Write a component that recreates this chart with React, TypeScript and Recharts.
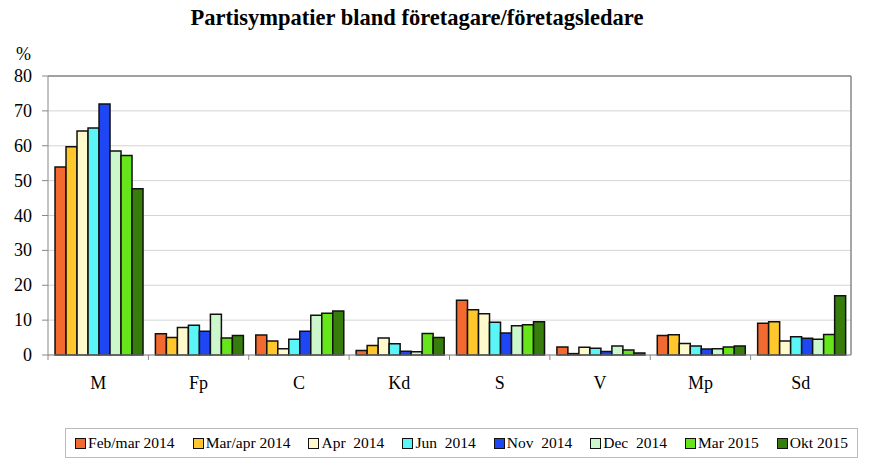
import React from "react";
import { BarChart, Bar, XAxis, YAxis, CartesianGrid, ReferenceLine } from "recharts";

const parties = ["M", "Fp", "C", "Kd", "S", "V", "Mp", "Sd"];

const febMar2014 = [53.9, 6.1, 5.7, 1.3, 15.7, 2.3, 5.6, 9.1];
const marApr2014 = [59.7, 5.0, 4.0, 2.7, 13.0, 0.4, 5.8, 9.5];
const apr2014 = [64.2, 7.9, 1.8, 4.9, 11.8, 2.2, 3.3, 4.0];
const jun2014 = [65.1, 8.5, 4.5, 3.2, 9.4, 1.9, 2.6, 5.2];
const nov2014 = [72.0, 6.8, 6.8, 1.1, 6.3, 1.0, 1.7, 4.8];
const dec2014 = [58.5, 11.7, 11.4, 0.9, 8.4, 2.6, 1.8, 4.5];
const mar2015 = [57.2, 4.9, 12.0, 6.2, 8.7, 1.4, 2.3, 5.9];
const okt2015 = [47.7, 5.6, 12.6, 5.0, 9.5, 0.6, 2.6, 17.0];

const yTicks = [0, 10, 20, 30, 40, 50, 60, 70, 80];

const series = [
  { key: "febMar2014", name: "Feb/mar 2014", color: "#f26a30", values: febMar2014 },
  { key: "marApr2014", name: "Mar/apr 2014", color: "#ffc72c", values: marApr2014 },
  { key: "apr2014", name: "Apr  2014", color: "#fffacb", values: apr2014 },
  { key: "jun2014", name: "Jun  2014", color: "#5cf5f7", values: jun2014 },
  { key: "nov2014", name: "Nov  2014", color: "#1e46f5", values: nov2014 },
  { key: "dec2014", name: "Dec  2014", color: "#ccf6cc", values: dec2014 },
  { key: "mar2015", name: "Mar 2015", color: "#66e61a", values: mar2015 },
  { key: "okt2015", name: "Okt 2015", color: "#367d0c", values: okt2015 },
];

const data = parties.map((p, i) => {
  const row: Record<string, string | number> = { party: p };
  series.forEach((s) => (row[s.key] = s.values[i]));
  return row;
});

const font = "'Liberation Serif', 'Times New Roman', serif";

// category label plus a tick mark on the left edge of each band
const PartyTick = (props: any) => {
  const { x, y, payload } = props;
  const half = payload?.offset ?? 50;
  return (
    <g>
      <line x1={x - half} y1={y - 8} x2={x - half} y2={y - 3} stroke="#888" strokeWidth={1} />
      <text x={x} y={y + 26} textAnchor="middle" fontFamily={font} fontSize={18} fill="#000">
        {payload.value}
      </text>
    </g>
  );
};

const ValueTick = (props: any) => {
  const { x, y, payload } = props;
  return (
    <text x={x - 8} y={y + 6} textAnchor="end" fontFamily={font} fontSize={18} fill="#000">
      {payload.value}
    </text>
  );
};

export default function App() {
  return (
    <div style={{ position: "absolute", left: 0, top: 0, width: 872, height: 467, background: "#fff", fontFamily: font }}>
      <div
        style={{
          position: "absolute",
          top: 5,
          left: 0,
          width: 834,
          textAlign: "center",
          fontWeight: "bold",
          fontSize: 22.5,
        }}
      >
        Partisympatier bland företagare/företagsledare
      </div>
      <div style={{ position: "absolute", top: 44, left: 16, fontSize: 18 }}>%</div>
      <BarChart
        width={872}
        height={467}
        data={data}
        margin={{ top: 76, right: 21, bottom: 82, left: 8 }}
        barCategoryGap="7%"
        barGap={0}
      >
        <CartesianGrid vertical={false} stroke="#d4d4d4" />
        <XAxis
          dataKey="party"
          stroke="#888"
          tickLine={false}
          tick={<PartyTick />}
          height={30}
          interval={0}
        />
        <YAxis
          domain={[0, 80]}
          ticks={yTicks}
          width={40}
          stroke="#888"
          tickSize={6}
          tick={<ValueTick />}
        />
        <ReferenceLine y={80} stroke="#888" strokeWidth={1.5} />
        <ReferenceLine x="Sd" position="end" stroke="#888" strokeWidth={1.5} />
        {series.map((s) => (
          <Bar
            key={s.key}
            dataKey={s.key}
            name={s.name}
            fill={s.color}
            stroke="#111"
            strokeWidth={1.5}
            isAnimationActive={false}
          />
        ))}
      </BarChart>
      <div
        style={{
          position: "absolute",
          left: 65,
          top: 428,
          width: 791,
          height: 28,
          border: "1px solid #bbb",
          display: "flex",
          alignItems: "center",
          justifyContent: "space-around",
          fontSize: 15.5,
          whiteSpace: "pre",
        }}
      >
        {series.map((s) => (
          <span key={s.key} style={{ display: "flex", alignItems: "center" }}>
            <span
              style={{
                display: "inline-block",
                width: 9,
                height: 9,
                background: s.color,
                border: "1.5px solid #111",
                marginRight: 2,
              }}
            />
            {s.name}
          </span>
        ))}
      </div>
    </div>
  );
}
